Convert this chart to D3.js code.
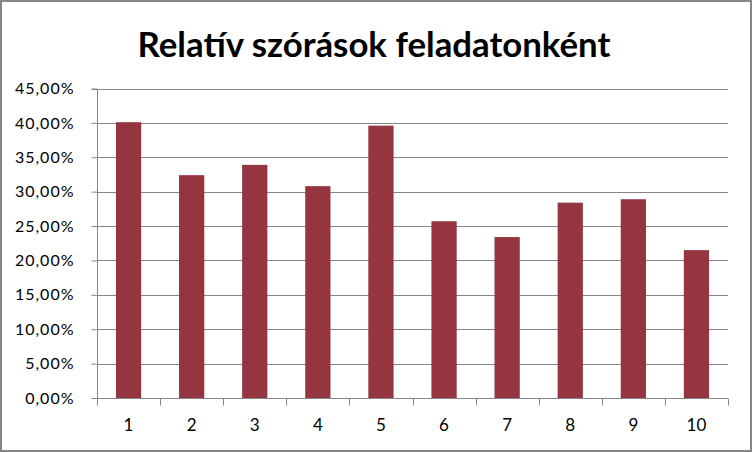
<!DOCTYPE html>
<html><head><meta charset="utf-8">
<script src="https://cdn.jsdelivr.net/npm/d3@7/dist/d3.min.js"></script>
<style>body{margin:0;background:#fff}svg{display:block}</style>
</head><body>
<svg id="c" width="752" height="452"></svg>
<script>
const categories = ["1","2","3","4","5","6","7","8","9","10"];
const values = [0.401, 0.324, 0.339, 0.308, 0.396, 0.257, 0.234, 0.284, 0.289, 0.215];
const yTicks = [0, 0.05, 0.10, 0.15, 0.20, 0.25, 0.30, 0.35, 0.40, 0.45];
const title = "Relatív szórások feladatonként";

const svg = d3.select("#c");
const W = 752, H = 452;
const m = {left: 97, right: 24, top: 88.5, bottom: 54};
const font = "Lato, 'Open Sans', 'DejaVu Sans', sans-serif";

svg.append("rect").attr("x",1).attr("y",1).attr("width",W-2).attr("height",H-2)
  .attr("fill","#fff").attr("stroke","#868686").attr("stroke-width",2);

const x = d3.scaleBand().domain(categories).range([m.left, W - m.right]).paddingInner(0.6).paddingOuter(0.3);
const y = d3.scaleLinear().domain([0, 0.45]).range([H - m.bottom, m.top]);

// gridlines
svg.append("g").selectAll("line").data(yTicks.filter(d=>d>0)).join("line")
  .attr("x1", m.left).attr("x2", W - m.right)
  .attr("y1", d=>Math.round(y(d))+0.5).attr("y2", d=>Math.round(y(d))+0.5)
  .attr("stroke","#868686").attr("stroke-width",1);

// bars
svg.append("g").selectAll("rect").data(values).join("rect")
  .attr("x", (d,i)=>x(categories[i]))
  .attr("width", x.bandwidth())
  .attr("y", d=>y(d))
  .attr("height", d=>y(0)-y(d))
  .attr("fill","#953540");

// y axis
const fmt = d => d3.format(".2f")(d*100).replace(".", ",") + "%";
const ya = svg.append("g").attr("transform",`translate(${m.left+0.5},0)`)
  .call(d3.axisLeft(y).tickValues(yTicks).tickFormat(fmt).tickSize(6).tickPadding(17));
ya.selectAll("path,line").attr("stroke","#868686");
ya.selectAll("text").attr("font-family",font).attr("font-size",16).attr("letter-spacing","1px").attr("fill","#000");
ya.select(".domain").attr("d",`M-6,${Math.round(y(0.45))+0.5}H0V${Math.round(y(0))+0.5}`);

// x axis
const xa = svg.append("g").attr("transform",`translate(0,${Math.round(y(0))+0.5})`)
  .call(d3.axisBottom(x).tickSize(0).tickPadding(20));
xa.select(".domain").attr("stroke","#868686").attr("d",`M${m.left},0H${W-m.right}`);
xa.selectAll("text").attr("font-family",font).attr("font-size",17).attr("fill","#000");
const bounds = d3.range(categories.length+1).map(i => m.left + i*(W-m.left-m.right)/categories.length);
xa.append("g").selectAll("line").data(bounds).join("line")
  .attr("x1",d=>Math.round(d)+0.5).attr("x2",d=>Math.round(d)+0.5).attr("y1",0).attr("y2",7)
  .attr("stroke","#868686");

// title
const t = svg.append("text").attr("x", 374).attr("y", 57).attr("text-anchor","middle")
  .attr("font-family",font).attr("font-weight","bold").attr("font-size",38).attr("fill","#000").text(title);
const len = t.node().getComputedTextLength();
t.attr("font-size", 38*473/len);
</script>
</body></html>
